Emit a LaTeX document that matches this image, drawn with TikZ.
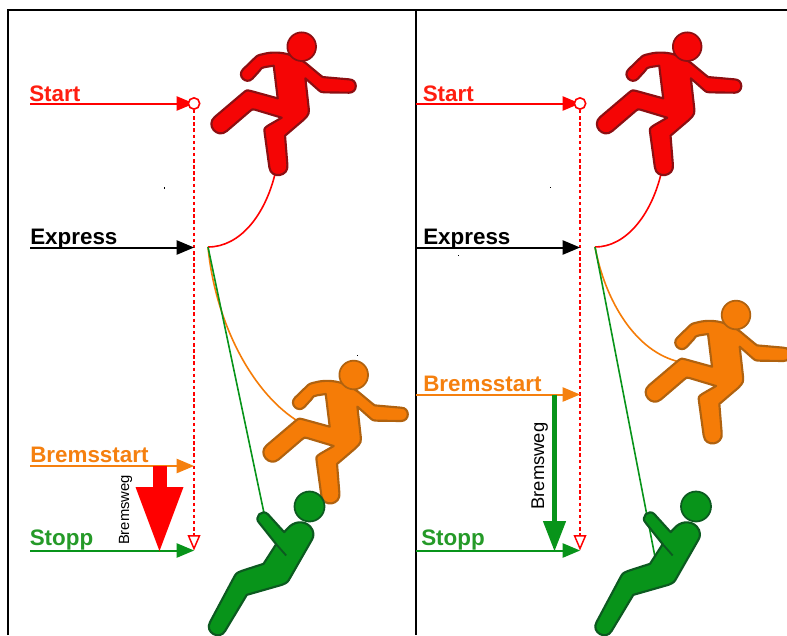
\documentclass[tikz,border=0pt]{standalone}
\usepackage{fontspec}
\setmainfont{Liberation Sans}
\usetikzlibrary{arrows.meta}
\definecolor{cRed}{HTML}{F50505}
\definecolor{cRedD}{HTML}{8C0F12}
\definecolor{cOr}{HTML}{F57C07}
\definecolor{cOrD}{HTML}{B0620F}
\definecolor{cGr}{HTML}{08941A}
\definecolor{cGrD}{HTML}{0C5A20}
\definecolor{lRed}{HTML}{FF1E10}
\definecolor{lOr}{HTML}{F5800F}
\definecolor{lGr}{HTML}{259A28}
\tikzset{
  lab/.style={anchor=base west,inner sep=0pt,font=\bfseries\fontsize{16.8pt}{18pt}\selectfont},
  marker/.style={line width=1.5pt,-{Triangle[length=13pt,width=11pt,line width=0pt]}},
  drop/.style={draw=red,line width=1.5pt,dash pattern=on 2.6pt off 2pt,-{Triangle[open,fill=white,length=11.5pt,width=9.5pt,line width=1.1pt]}},
  startmark/.style={circle,draw=red,fill=white,line width=1.2pt,minimum size=8.5pt,inner sep=0pt},
  rope/.style={line width=1.2pt},
  frame/.style={line width=1.5pt,black},
  speck/.style={fill=black,inner sep=0pt,minimum width=.7pt,minimum height=1.4pt},
  vlabel/.style={rotate=90,anchor=base,inner sep=0pt}
}
\newcommand{\runner}[5]{% name, x, y, fill, line
  \begin{scope}[shift={(#2,#3)},x=.25pt,y=-.25pt]
    \begin{scope}[x=.25pt,y=.25pt,yscale=-1,shift={(-305,-80)}]
      \filldraw[draw=#5,fill=#4,line width=1.6pt,line join=round]
        (129,148) -- (160,118) .. controls (172,106) .. (190,102)
        .. controls (215,95) and (245,97) .. (265,103) -- (300,118) -- (318,130)
        -- (360,165) .. controls (368,172) .. (378,172) -- (447,178)
        .. controls (474,178) and (474,218) .. (447,218)
        -- (375,217) .. controls (362,216) .. (352,207) -- (316,175)
        -- (325,255) .. controls (328,282) .. (310,300) -- (255,347) -- (262,434)
        .. controls (267,470) and (213,478) .. (208,442)
        -- (194,340) .. controls (192,325) .. (205,316) -- (245,293)
        -- (165,269) .. controls (157,267) .. (150,273) -- (80,333)
        .. controls (52,357) and (16,315) .. (44,291)
        -- (130,218) .. controls (140,210) .. (153,213) -- (233,235) -- (221,137)
        -- (195,141) .. controls (185,143) .. (178,153) -- (157,176)
        .. controls (138,195) and (110,167) .. (129,148) -- cycle;
      \node[circle,draw=#5,fill=#4,line width=1.3pt,minimum size=21.5pt,inner sep=0pt] (#1) at (305,80) {};
    \end{scope}
  \end{scope}}
\newcommand{\hanger}[3]{% name, x, y
  \begin{scope}[shift={(#2,#3)},x=.25pt,y=-.25pt]
    \begin{scope}[x=.25pt,y=.25pt,yscale=-1,shift={(-328,-65)}]
      \filldraw[draw=cGrD,fill=cGr,line width=1.6pt,line join=round]
        (203,88) -- (252,142) -- (262,131) .. controls (280,110) and (310,105) .. (330,125)
        .. controls (342,138) and (342,155) .. (335,165) -- (272,275)
        .. controls (262,293) .. (245,300) -- (140,330) -- (75,438)
        .. controls (58,468) and (12.5,442) .. (29.5,412)
        -- (100,280) .. controls (108,265) .. (125,258) -- (190,237) -- (228,178) -- (177,114)
        .. controls (160,97) and (186,71) .. (203,88) -- cycle;
      \draw[cGrD,line width=1.4pt] (228,178)--(258,212);
      \node[circle,draw=cGrD,fill=cGr,line width=1.3pt,minimum size=22.5pt,inner sep=0pt] (#1) at (328,65) {};
    \end{scope}
  \end{scope}}
\begin{document}
\begin{tikzpicture}[x=.75pt,y=-.75pt]
\useasboundingbox (0,0) rectangle (787,635);
\clip (0,0) rectangle (787,635);
\fill[white] (0,0) rectangle (787,635);
% frame
\coordinate (fTL) at (7.5,10); \coordinate (fBL) at (7.5,635);
\coordinate (fTM) at (416,10); \coordinate (fBM) at (416,635);
\coordinate (fTR) at (787,10);
\draw[frame] (fBL)--(fTL)--(fTR);
\draw[frame] (fTM)--(fBM);
% specks
\node[speck] (s1) at (164,188) {};
\node[speck] (s2) at (357,355.5) {};
\node[speck] (s3) at (458,255.5) {};
\node[speck] (s4) at (550,187.5) {};
%%%% LEFT
\coordinate (aS) at (30,103.5);  \coordinate (bS) at (194,103.5);
\coordinate (aE) at (30,247.5);  \coordinate (bE) at (194,247.5);
\coordinate (aB) at (30,466);    \coordinate (bB) at (194,466);
\coordinate (aT) at (30,550.5);  \coordinate (bT) at (194,550.5);
\coordinate (dEnd) at (194,550.5);
\coordinate (origL) at (208,247);
\coordinate (rL) at (275,174);
\coordinate (oL) at (296,420);
\coordinate (gL) at (264,513);
\coordinate (bigA) at (159.5,466);
\coordinate (bigB) at (159.5,551);
\node[lab,text=lRed] (tS) at (29,101) {Start};
\node[lab,text=black] (tE) at (30,244) {Express};
\node[lab,text=lOr] (tB) at (30,462.5) {Bremsstart};
\node[lab,text=lGr] (tT) at (29.5,545) {Stopp};
\draw[marker,red] (aS) -- (bS);
\node[startmark] (cS) at (194,103.5) {};
\draw[drop] (cS) -- (dEnd);
\draw[marker,black] (aE) -- (bE);
\draw[marker,lOr] (aB) -- (bB);
\draw[marker,cGr] (aT) -- (bT);
\draw[line width=10.5pt,red,-{Triangle[length=48pt,width=36pt,line width=0pt]}] (bigA) -- (bigB);
\node[vlabel,font=\fontsize{11.1pt}{13pt}\selectfont] (tW) at (129,510) {Bremsweg};
\draw[rope,red] (origL) .. controls (240,247) and (265,215) .. (rL);
\draw[rope,cOr] (origL) .. controls (215,320) and (250,390) .. (oL);
\draw[rope,cGr] (origL) -- (gL);
\runner{hR1}{301.7}{46.7}{cRed}{cRedD}
\runner{hO1}{353.7}{375}{cOr}{cOrD}
\hanger{hG1}{309.5}{506.5}
%%%% RIGHT
\coordinate (aS2) at (416,103.5); \coordinate (bS2) at (580,103.5);
\coordinate (aE2) at (416,247.5); \coordinate (bE2) at (580,247.5);
\coordinate (aB2) at (416,394.5); \coordinate (bB2) at (580,394.5);
\coordinate (aT2) at (416,550.5); \coordinate (bT2) at (580,550.5);
\coordinate (dEnd2) at (580,550.5);
\coordinate (origR) at (595,247);
\coordinate (rR) at (661,174);
\coordinate (oR) at (680,362);
\coordinate (gR) at (655,557);
\coordinate (armA) at (554.5,394.5);
\coordinate (armB) at (554.5,551);
\node[lab,text=lRed] (tS2) at (422.5,101) {Start};
\node[lab,text=black] (tE2) at (423,244) {Express};
\node[lab,text=lOr] (tB2) at (423,391) {Bremsstart};
\node[lab,text=lGr] (tT2) at (421,545) {Stopp};
\draw[marker,red] (aS2) -- (bS2);
\node[startmark] (cS2) at (580,103.5) {};
\draw[drop] (cS2) -- (dEnd2);
\draw[marker,black] (aE2) -- (bE2);
\draw[marker,lOr] (aB2) -- (bB2);
\draw[marker,cGr] (aT2) -- (bT2);
\draw[line width=3.8pt,cGr,-{Triangle[length=22.5pt,width=17.5pt,line width=0pt]}] (armA) -- (armB);
\node[vlabel,font=\fontsize{13.8pt}{15pt}\selectfont] (tW2) at (544,466) {Bremsweg};
\draw[rope,red] (origR) .. controls (626,247) and (651,215) .. (rR);
\draw[rope,cOr] (origR) .. controls (605,300) and (635,352) .. (oR);
\draw[rope,cGr] (origR) -- (gR);
\runner{hR2}{687.2}{46.7}{cRed}{cRedD}
\runner{hO2}{736}{315}{cOr}{cOrD}
\hanger{hG2}{696}{506.5}
\end{tikzpicture}
\end{document}
